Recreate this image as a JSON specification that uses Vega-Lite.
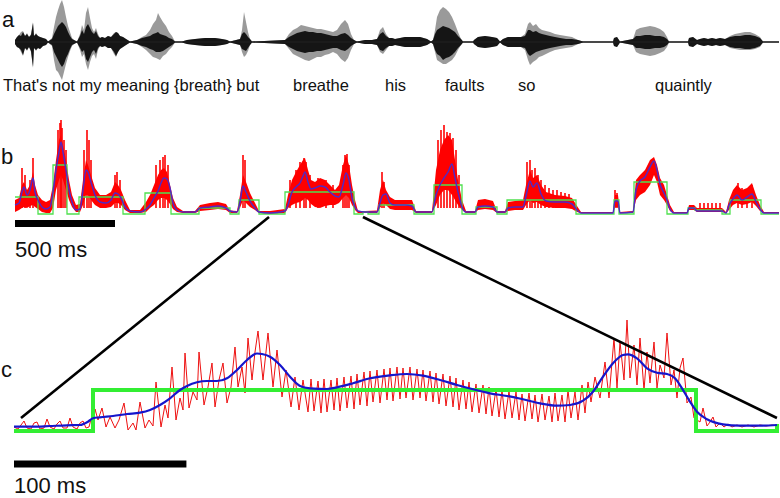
{
"$schema": "https://vega.github.io/schema/vega-lite/v6.json",
"padding": 0,
"spacing": 0,
"bounds": "flush",
"config": {"view": {"stroke": null}, "text": {"font": "Liberation Sans"}},
"resolve": {"scale": {"x": "independent", "y": "independent"}},
"datasets": {
"wave": [
{"t":0,"gu":2,"gd":-2,"ku":2,"kd":-2},{"t":10,"gu":5,"gd":-5,"ku":5,"kd":-5},{"t":20,"gu":7,"gd":-6,"ku":7,"kd":-6},{"t":30,"gu":10,"gd":-10,"ku":6,"kd":-8},{"t":40,"gu":11,"gd":-14,"ku":10,"kd":-13},{"t":50,"gu":6,"gd":-6,"ku":6,"kd":-6},{"t":60,"gu":9,"gd":-9,"ku":8,"kd":-8},{"t":70,"gu":5,"gd":-5,"ku":5,"kd":-5},{"t":80,"gu":8,"gd":-10,"ku":7,"kd":-9},{"t":90,"gu":20,"gd":-26,"ku":19,"kd":-25},{"t":95,"gu":6,"gd":-6,"ku":6,"kd":-6},{"t":105,"gu":9,"gd":-9,"ku":8,"kd":-8},{"t":115,"gu":6,"gd":-6,"ku":6,"kd":-6},{"t":125,"gu":5,"gd":-7,"ku":5,"kd":-7},{"t":140,"gu":4,"gd":-4,"ku":4,"kd":-4},{"t":155,"gu":3,"gd":-3,"ku":3,"kd":-3},{"t":165,"gu":0.5,"gd":-0.5,"ku":0.5,"kd":-0.5},
{"t":185,"gu":4,"gd":-4,"ku":3,"kd":-3},{"t":195,"gu":15,"gd":-18,"ku":8,"kd":-10},{"t":205,"gu":25,"gd":-28,"ku":12,"kd":-14},{"t":215,"gu":32,"gd":-30,"ku":16,"kd":-18},{"t":225,"gu":38,"gd":-34,"ku":18,"kd":-22},{"t":235,"gu":42,"gd":-38,"ku":20,"kd":-25},{"t":245,"gu":35,"gd":-30,"ku":18,"kd":-22},{"t":255,"gu":25,"gd":-22,"ku":15,"kd":-16},{"t":265,"gu":16,"gd":-15,"ku":10,"kd":-12},{"t":275,"gu":10,"gd":-9,"ku":6,"kd":-7},{"t":285,"gu":4,"gd":-4,"ku":3,"kd":-3},{"t":295,"gu":2,"gd":-2,"ku":2,"kd":-2},{"t":310,"gu":0.5,"gd":-0.5,"ku":0.5,"kd":-0.5},
{"t":325,"gu":8,"gd":-8,"ku":6,"kd":-6},{"t":335,"gu":17,"gd":-15,"ku":12,"kd":-10},{"t":345,"gu":12,"gd":-12,"ku":8,"kd":-8},{"t":355,"gu":29,"gd":-22,"ku":15,"kd":-17},{"t":365,"gu":35,"gd":-28,"ku":18,"kd":-20},{"t":375,"gu":24,"gd":-20,"ku":14,"kd":-15},{"t":385,"gu":14,"gd":-14,"ku":10,"kd":-10},{"t":395,"gu":10,"gd":-12,"ku":8,"kd":-8},{"t":405,"gu":14,"gd":-17,"ku":11,"kd":-12},{"t":415,"gu":8,"gd":-8,"ku":6,"kd":-6},{"t":425,"gu":4,"gd":-4,"ku":4,"kd":-4},
{"t":435,"gu":5,"gd":-5,"ku":5,"kd":-5},{"t":450,"gu":4,"gd":-4,"ku":4,"kd":-4},{"t":465,"gu":6,"gd":-6,"ku":6,"kd":-6},{"t":480,"gu":5,"gd":-6,"ku":5,"kd":-6},{"t":495,"gu":9,"gd":-12,"ku":8,"kd":-10},{"t":505,"gu":10,"gd":-15,"ku":10,"kd":-14},{"t":515,"gu":9,"gd":-10,"ku":9,"kd":-10},{"t":525,"gu":6,"gd":-7,"ku":6,"kd":-7},{"t":540,"gu":5,"gd":-5,"ku":5,"kd":-5},{"t":555,"gu":3,"gd":-3,"ku":3,"kd":-3},{"t":575,"gu":0.5,"gd":-0.5,"ku":0.5,"kd":-0.5},
{"t":610,"gu":2,"gd":-2,"ku":2,"kd":-2},{"t":635,"gu":5,"gd":-5,"ku":4,"kd":-4},{"t":655,"gu":7,"gd":-8,"ku":5,"kd":-5},{"t":675,"gu":12,"gd":-12,"ku":6,"kd":-7},{"t":690,"gu":18,"gd":-15,"ku":8,"kd":-8},{"t":705,"gu":22,"gd":-16,"ku":9,"kd":-10},{"t":715,"gu":29,"gd":-17,"ku":10,"kd":-10},{"t":725,"gu":25,"gd":-18,"ku":8,"kd":-10},{"t":740,"gu":20,"gd":-14,"ku":7,"kd":-9},{"t":755,"gu":16,"gd":-12,"ku":6,"kd":-7},{"t":770,"gu":10,"gd":-8,"ku":4,"kd":-5},{"t":785,"gu":6,"gd":-5,"ku":3,"kd":-3},{"t":800,"gu":0.5,"gd":-0.5,"ku":0.5,"kd":-0.5},
{"t":835,"gu":0.5,"gd":-0.5,"ku":0.5,"kd":-0.5},{"t":860,"gu":2,"gd":-2,"ku":2,"kd":-2},{"t":900,"gu":3,"gd":-3,"ku":3,"kd":-3},{"t":950,"gu":4,"gd":-4,"ku":4,"kd":-4},{"t":1000,"gu":4,"gd":-4,"ku":4,"kd":-4},{"t":1035,"gu":3,"gd":-3,"ku":3,"kd":-3},{"t":1060,"gu":2,"gd":-2,"ku":2,"kd":-2},{"t":1075,"gu":0.5,"gd":-0.5,"ku":0.5,"kd":-0.5},
{"t":1125,"gu":3,"gd":-3,"ku":3,"kd":-3},{"t":1135,"gu":12,"gd":-10,"ku":8,"kd":-7},{"t":1145,"gu":30,"gd":-15,"ku":10,"kd":-8},{"t":1155,"gu":20,"gd":-13,"ku":8,"kd":-9},{"t":1165,"gu":10,"gd":-9,"ku":5,"kd":-6},{"t":1175,"gu":3,"gd":-3,"ku":3,"kd":-3},{"t":1185,"gu":0.5,"gd":-0.5,"ku":0.5,"kd":-0.5},
{"t":1350,"gu":2,"gd":-2,"ku":2,"kd":-2},{"t":1370,"gu":8,"gd":-7,"ku":5,"kd":-5},{"t":1390,"gu":12,"gd":-12,"ku":7,"kd":-7},{"t":1410,"gu":14,"gd":-14,"ku":9,"kd":-9},{"t":1430,"gu":17,"gd":-16,"ku":10,"kd":-10},{"t":1450,"gu":16,"gd":-18,"ku":11,"kd":-11},{"t":1470,"gu":15,"gd":-19,"ku":10,"kd":-10},{"t":1490,"gu":14,"gd":-17,"ku":10,"kd":-10},{"t":1510,"gu":13,"gd":-15,"ku":9,"kd":-9},{"t":1530,"gu":13,"gd":-15,"ku":9,"kd":-9},{"t":1550,"gu":12,"gd":-13,"ku":8,"kd":-8},{"t":1570,"gu":11,"gd":-12,"ku":7,"kd":-7},{"t":1590,"gu":10,"gd":-10,"ku":6,"kd":-6},{"t":1610,"gu":12,"gd":-12,"ku":6,"kd":-6},{"t":1630,"gu":18,"gd":-17,"ku":8,"kd":-8},{"t":1650,"gu":22,"gd":-20,"ku":9,"kd":-9},{"t":1665,"gu":18,"gd":-16,"ku":7,"kd":-7},{"t":1680,"gu":8,"gd":-8,"ku":4,"kd":-4},{"t":1695,"gu":2,"gd":-2,"ku":2,"kd":-2},{"t":1710,"gu":0.5,"gd":-0.5,"ku":0.5,"kd":-0.5},
{"t":1750,"gu":2,"gd":-2,"ku":2,"kd":-2},{"t":1785,"gu":2,"gd":-2,"ku":2,"kd":-2},{"t":1810,"gu":3,"gd":-3,"ku":3,"kd":-3},{"t":1825,"gu":12,"gd":-10,"ku":8,"kd":-8},{"t":1840,"gu":15,"gd":-12,"ku":10,"kd":-9},{"t":1855,"gu":8,"gd":-8,"ku":6,"kd":-6},{"t":1870,"gu":4,"gd":-4,"ku":4,"kd":-4},{"t":1885,"gu":4,"gd":-4,"ku":4,"kd":-4},{"t":1900,"gu":3,"gd":-3,"ku":3,"kd":-3},{"t":1925,"gu":4,"gd":-4,"ku":4,"kd":-4},{"t":1950,"gu":5,"gd":-5,"ku":5,"kd":-5},{"t":1985,"gu":5,"gd":-5,"ku":5,"kd":-5},{"t":2025,"gu":5,"gd":-5,"ku":5,"kd":-5},{"t":2060,"gu":3,"gd":-3,"ku":3,"kd":-3},{"t":2080,"gu":0.5,"gd":-0.5,"ku":0.5,"kd":-0.5},
{"t":2090,"gu":2,"gd":-2,"ku":2,"kd":-2},{"t":2100,"gu":12,"gd":-10,"ku":8,"kd":-8},{"t":2110,"gu":25,"gd":-18,"ku":12,"kd":-12},{"t":2125,"gu":32,"gd":-20,"ku":14,"kd":-14},{"t":2140,"gu":35,"gd":-22,"ku":16,"kd":-18},{"t":2155,"gu":33,"gd":-22,"ku":15,"kd":-16},{"t":2170,"gu":30,"gd":-20,"ku":14,"kd":-15},{"t":2185,"gu":25,"gd":-18,"ku":12,"kd":-13},{"t":2200,"gu":18,"gd":-14,"ku":10,"kd":-10},{"t":2215,"gu":10,"gd":-8,"ku":6,"kd":-6},{"t":2230,"gu":3,"gd":-3,"ku":3,"kd":-3},{"t":2240,"gu":0.5,"gd":-0.5,"ku":0.5,"kd":-0.5},
{"t":2290,"gu":0.5,"gd":-0.5,"ku":0.5,"kd":-0.5},{"t":2295,"gu":2,"gd":-2,"ku":2,"kd":-2},{"t":2315,"gu":5,"gd":-5,"ku":5,"kd":-5},{"t":2350,"gu":6,"gd":-6,"ku":6,"kd":-6},{"t":2385,"gu":5,"gd":-5,"ku":5,"kd":-5},{"t":2410,"gu":4,"gd":-4,"ku":4,"kd":-4},{"t":2425,"gu":0.5,"gd":-0.5,"ku":0.5,"kd":-0.5},{"t":2440,"gu":3,"gd":-3,"ku":3,"kd":-3},{"t":2465,"gu":5,"gd":-5,"ku":5,"kd":-5},{"t":2500,"gu":5,"gd":-5,"ku":5,"kd":-5},{"t":2530,"gu":5,"gd":-5,"ku":5,"kd":-5},
{"t":2550,"gu":8,"gd":-8,"ku":6,"kd":-6},{"t":2565,"gu":18,"gd":-18,"ku":12,"kd":-12},{"t":2575,"gu":20,"gd":-23,"ku":12,"kd":-14},{"t":2590,"gu":16,"gd":-20,"ku":10,"kd":-12},{"t":2605,"gu":18,"gd":-18,"ku":11,"kd":-10},{"t":2620,"gu":14,"gd":-15,"ku":9,"kd":-9},{"t":2635,"gu":12,"gd":-14,"ku":8,"kd":-8},{"t":2655,"gu":11,"gd":-12,"ku":7,"kd":-7},{"t":2675,"gu":10,"gd":-10,"ku":6,"kd":-6},{"t":2700,"gu":8,"gd":-8,"ku":5,"kd":-5},{"t":2725,"gu":7,"gd":-7,"ku":4,"kd":-4},{"t":2755,"gu":6,"gd":-6,"ku":3,"kd":-3},{"t":2785,"gu":5,"gd":-5,"ku":3,"kd":-3},{"t":2815,"gu":2,"gd":-2,"ku":2,"kd":-2},{"t":2840,"gu":0.5,"gd":-0.5,"ku":0.5,"kd":-0.5},
{"t":2990,"gu":0.5,"gd":-0.5,"ku":0.5,"kd":-0.5},{"t":2995,"gu":4,"gd":-4,"ku":4,"kd":-4},{"t":3010,"gu":5,"gd":-5,"ku":5,"kd":-5},{"t":3025,"gu":0.5,"gd":-0.5,"ku":0.5,"kd":-0.5},
{"t":3090,"gu":3,"gd":-3,"ku":3,"kd":-3},{"t":3105,"gu":12,"gd":-10,"ku":6,"kd":-6},{"t":3125,"gu":14,"gd":-12,"ku":6,"kd":-6},{"t":3150,"gu":15,"gd":-13,"ku":7,"kd":-7},{"t":3175,"gu":16,"gd":-14,"ku":7,"kd":-7},{"t":3200,"gu":15,"gd":-13,"ku":6,"kd":-6},{"t":3225,"gu":13,"gd":-11,"ku":6,"kd":-6},{"t":3245,"gu":10,"gd":-9,"ku":5,"kd":-5},{"t":3260,"gu":5,"gd":-5,"ku":3,"kd":-3},{"t":3270,"gu":0.5,"gd":-0.5,"ku":0.5,"kd":-0.5},
{"t":3365,"gu":0.5,"gd":-0.5,"ku":0.5,"kd":-0.5},{"t":3370,"gu":4,"gd":-4,"ku":4,"kd":-4},{"t":3390,"gu":5,"gd":-5,"ku":5,"kd":-5},{"t":3410,"gu":2,"gd":-2,"ku":2,"kd":-2},{"t":3425,"gu":3,"gd":-3,"ku":3,"kd":-3},{"t":3445,"gu":4,"gd":-4,"ku":4,"kd":-4},{"t":3465,"gu":3,"gd":-3,"ku":3,"kd":-3},{"t":3485,"gu":4,"gd":-4,"ku":4,"kd":-4},{"t":3505,"gu":3,"gd":-3,"ku":3,"kd":-3},{"t":3525,"gu":4,"gd":-4,"ku":4,"kd":-4},{"t":3550,"gu":3,"gd":-3,"ku":3,"kd":-3},
{"t":3575,"gu":6,"gd":-6,"ku":5,"kd":-5},{"t":3600,"gu":8,"gd":-7,"ku":6,"kd":-6},{"t":3625,"gu":9,"gd":-8,"ku":6,"kd":-6},{"t":3650,"gu":10,"gd":-8,"ku":7,"kd":-7},{"t":3675,"gu":10,"gd":-8,"ku":7,"kd":-7},{"t":3700,"gu":8,"gd":-7,"ku":6,"kd":-6},{"t":3725,"gu":5,"gd":-5,"ku":4,"kd":-4},{"t":3740,"gu":0.5,"gd":-0.5,"ku":0.5,"kd":-0.5},{"t":3820,"gu":0.5,"gd":-0.5,"ku":0.5,"kd":-0.5}
],
"words": [
{"t":-60,"v":-49,"w":"That's not my meaning {breath} but"},{"t":1390,"v":-49,"w":"breathe"},{"t":1850,"v":-49,"w":"his"},{"t":2150,"v":-49,"w":"faults"},{"t":2515,"v":-49,"w":"so"},{"t":3200,"v":-49,"w":"quaintly"}
],
"env": [
{"t":0,"lo":0,"hi":12,"b":7},{"t":20,"lo":2,"hi":14,"b":9},{"t":35,"lo":4,"hi":27,"b":20},{"t":45,"lo":5,"hi":30,"b":25},{"t":60,"lo":4,"hi":22,"b":17},{"t":75,"lo":6,"hi":27,"b":22},{"t":90,"lo":7,"hi":40,"b":34},{"t":100,"lo":5,"hi":27,"b":20},{"t":115,"lo":3,"hi":17,"b":12},{"t":135,"lo":0,"hi":12,"b":5},{"t":155,"lo":-1,"hi":10,"b":3},{"t":175,"lo":-1,"hi":12,"b":5},{"t":190,"lo":4,"hi":27,"b":20},{"t":205,"lo":22,"hi":52,"b":42},{"t":220,"lo":32,"hi":72,"b":60},{"t":230,"lo":37,"hi":77,"b":70},{"t":240,"lo":32,"hi":67,"b":60},{"t":255,"lo":22,"hi":52,"b":42},{"t":270,"lo":12,"hi":32,"b":22},{"t":285,"lo":5,"hi":17,"b":10},{"t":305,"lo":0,"hi":7,"b":2},{"t":325,"lo":0,"hi":8,"b":3},{"t":340,"lo":7,"hi":32,"b":22},{"t":355,"lo":17,"hi":52,"b":42},{"t":365,"lo":17,"hi":47,"b":40},{"t":380,"lo":12,"hi":37,"b":30},{"t":400,"lo":7,"hi":24,"b":17},{"t":425,"lo":4,"hi":17,"b":10},{"t":455,"lo":4,"hi":17,"b":9},{"t":480,"lo":5,"hi":20,"b":12},{"t":500,"lo":9,"hi":30,"b":19},{"t":515,"lo":9,"hi":27,"b":18},{"t":530,"lo":7,"hi":22,"b":14},{"t":550,"lo":2,"hi":12,"b":5},{"t":575,"lo":-1,"hi":2,"b":1},{"t":625,"lo":-1,"hi":2,"b":0},{"t":655,"lo":0,"hi":10,"b":3},{"t":675,"lo":4,"hi":17,"b":7},{"t":695,"lo":7,"hi":27,"b":14},{"t":715,"lo":12,"hi":37,"b":21},{"t":730,"lo":14,"hi":42,"b":29},{"t":745,"lo":14,"hi":44,"b":34},{"t":760,"lo":12,"hi":40,"b":33},{"t":775,"lo":8,"hi":27,"b":24},{"t":790,"lo":3,"hi":14,"b":9},{"t":810,"lo":0,"hi":5,"b":2},{"t":840,"lo":-1,"hi":1,"b":0},{"t":900,"lo":-1,"hi":1,"b":0},{"t":925,"lo":1,"hi":7,"b":4},{"t":975,"lo":2,"hi":9,"b":5},{"t":1015,"lo":3,"hi":10,"b":6},{"t":1055,"lo":2,"hi":8,"b":4},{"t":1075,"lo":-1,"hi":1.5,"b":1},{"t":1110,"lo":-1,"hi":1,"b":0},{"t":1125,"lo":4,"hi":17,"b":10},{"t":1140,"lo":12,"hi":37,"b":26},{"t":1155,"lo":9,"hi":30,"b":20},{"t":1175,"lo":5,"hi":19,"b":11},{"t":1200,"lo":2,"hi":9,"b":4},{"t":1220,"lo":-1,"hi":1,"b":0},{"t":1275,"lo":-2,"hi":1,"b":-1},{"t":1350,"lo":-1,"hi":3,"b":1},{"t":1365,"lo":4,"hi":17,"b":7},{"t":1385,"lo":7,"hi":32,"b":20},{"t":1405,"lo":9,"hi":40,"b":25},{"t":1425,"lo":10,"hi":47,"b":29},{"t":1440,"lo":12,"hi":52,"b":36},{"t":1450,"lo":14,"hi":54,"b":40},{"t":1465,"lo":12,"hi":42,"b":30},{"t":1480,"lo":8,"hi":32,"b":23},{"t":1500,"lo":5,"hi":30,"b":24},{"t":1525,"lo":4,"hi":34,"b":26},{"t":1550,"lo":6,"hi":32,"b":25},{"t":1575,"lo":7,"hi":27,"b":20},{"t":1600,"lo":7,"hi":22,"b":16},{"t":1620,"lo":9,"hi":27,"b":15},{"t":1640,"lo":14,"hi":47,"b":27},{"t":1655,"lo":17,"hi":57,"b":39},{"t":1670,"lo":14,"hi":47,"b":32},{"t":1685,"lo":7,"hi":27,"b":14},{"t":1700,"lo":2,"hi":12,"b":5},{"t":1715,"lo":-1,"hi":1,"b":1},{"t":1750,"lo":-1,"hi":1,"b":0},{"t":1810,"lo":-1,"hi":1.5,"b":0},{"t":1825,"lo":4,"hi":22,"b":9},{"t":1840,"lo":9,"hi":32,"b":17},{"t":1855,"lo":7,"hi":22,"b":18},{"t":1875,"lo":3,"hi":15,"b":9},{"t":1900,"lo":2,"hi":12,"b":7},{"t":1950,"lo":2,"hi":12,"b":7},{"t":1985,"lo":2,"hi":12,"b":6},{"t":2005,"lo":-1,"hi":1,"b":0},{"t":2085,"lo":-1,"hi":1,"b":0},{"t":2105,"lo":7,"hi":42,"b":17},{"t":2125,"lo":17,"hi":62,"b":27},{"t":2145,"lo":22,"hi":72,"b":34},{"t":2165,"lo":22,"hi":77,"b":40},{"t":2185,"lo":17,"hi":72,"b":48},{"t":2200,"lo":12,"hi":52,"b":34},{"t":2215,"lo":7,"hi":32,"b":20},{"t":2235,"lo":2,"hi":12,"b":5},{"t":2255,"lo":-1,"hi":1,"b":0},{"t":2300,"lo":-1,"hi":1,"b":0},{"t":2315,"lo":2,"hi":12,"b":5},{"t":2350,"lo":3,"hi":13,"b":6},{"t":2390,"lo":2,"hi":11,"b":5},{"t":2410,"lo":-1,"hi":1,"b":0},{"t":2450,"lo":-1,"hi":1,"b":0},{"t":2465,"lo":1,"hi":10,"b":4},{"t":2500,"lo":2,"hi":11,"b":5},{"t":2540,"lo":2,"hi":12,"b":5},{"t":2555,"lo":7,"hi":27,"b":16},{"t":2575,"lo":12,"hi":42,"b":31},{"t":2590,"lo":9,"hi":34,"b":25},{"t":2610,"lo":10,"hi":37,"b":29},{"t":2630,"lo":7,"hi":27,"b":18},{"t":2655,"lo":5,"hi":20,"b":11},{"t":2700,"lo":4,"hi":17,"b":10},{"t":2750,"lo":4,"hi":16,"b":10},{"t":2785,"lo":3,"hi":14,"b":8},{"t":2810,"lo":0,"hi":6,"b":2},{"t":2830,"lo":-1,"hi":0,"b":-1},{"t":2990,"lo":-1,"hi":0,"b":-1},{"t":3000,"lo":5,"hi":17,"b":11},{"t":3015,"lo":5,"hi":17,"b":11},{"t":3025,"lo":-1,"hi":0,"b":-1},{"t":3090,"lo":-1,"hi":1,"b":0},{"t":3105,"lo":12,"hi":32,"b":22},{"t":3125,"lo":17,"hi":37,"b":31},{"t":3150,"lo":20,"hi":42,"b":35},{"t":3175,"lo":27,"hi":52,"b":45},{"t":3195,"lo":37,"hi":55,"b":51},{"t":3210,"lo":30,"hi":47,"b":42},{"t":3225,"lo":17,"hi":34,"b":28},{"t":3245,"lo":12,"hi":27,"b":19},{"t":3260,"lo":7,"hi":17,"b":12},{"t":3275,"lo":1,"hi":7,"b":3},{"t":3295,"lo":-1,"hi":0,"b":-1},{"t":3360,"lo":-1,"hi":0,"b":-1},{"t":3370,"lo":2,"hi":7,"b":4},{"t":3395,"lo":2,"hi":7,"b":4},{"t":3410,"lo":0,"hi":4,"b":1},{"t":3535,"lo":0,"hi":4,"b":1},{"t":3555,"lo":-1,"hi":0,"b":-1},{"t":3570,"lo":2,"hi":12,"b":7},{"t":3590,"lo":7,"hi":22,"b":13},{"t":3610,"lo":9,"hi":27,"b":17},{"t":3635,"lo":7,"hi":22,"b":12},{"t":3660,"lo":8,"hi":24,"b":15},{"t":3685,"lo":10,"hi":29,"b":18},{"t":3705,"lo":6,"hi":17,"b":10},{"t":3725,"lo":1,"hi":7,"b":3},{"t":3745,"lo":-1,"hi":0,"b":-1},{"t":3820,"lo":-1,"hi":0,"b":-1}
],
"spk": [
{"t":35,"top":44},{"t":50,"top":37},{"t":75,"top":32},{"t":90,"top":54},{"t":215,"top":82},{"t":225,"top":89},{"t":230,"top":92},{"t":235,"top":84},{"t":245,"top":72},{"t":255,"top":62},{"t":345,"top":62},{"t":360,"top":82},{"t":370,"top":72},{"t":380,"top":52},{"t":500,"top":37},{"t":510,"top":40},{"t":525,"top":32},{"t":705,"top":47},{"t":725,"top":52},{"t":740,"top":55},{"t":750,"top":57},{"t":765,"top":47},{"t":1140,"top":57},{"t":1150,"top":52},{"t":1375,"top":32},{"t":1405,"top":42},{"t":1425,"top":50},{"t":1445,"top":54},{"t":1455,"top":50},{"t":1475,"top":37},{"t":1515,"top":34},{"t":1555,"top":32},{"t":1590,"top":27},{"t":1640,"top":47},{"t":1650,"top":57},{"t":1660,"top":58},{"t":1670,"top":47},{"t":1835,"top":40},{"t":1845,"top":30},{"t":2115,"top":72},{"t":2130,"top":82},{"t":2145,"top":87},{"t":2160,"top":80},{"t":2175,"top":79},{"t":2190,"top":74},{"t":2205,"top":62},{"t":2220,"top":37},{"t":2345,"top":9},{"t":2365,"top":9},{"t":2560,"top":50},{"t":2575,"top":52},{"t":2585,"top":42},{"t":2600,"top":44},{"t":2615,"top":37},{"t":2630,"top":32},{"t":2650,"top":27},{"t":2670,"top":24},{"t":2690,"top":22},{"t":2710,"top":22},{"t":2730,"top":20},{"t":2750,"top":19},{"t":2770,"top":18},{"t":3000,"top":22},{"t":3010,"top":19},{"t":3425,"top":9},{"t":3445,"top":9},{"t":3465,"top":9},{"t":3485,"top":9},{"t":3505,"top":9},{"t":3525,"top":9},{"t":3615,"top":29},{"t":3635,"top":24},{"t":3660,"top":22},{"t":3685,"top":27}
],
"gb": [
{"t":0,"v":15},{"t":115,"v":-2},{"t":190,"v":47},{"t":260,"v":-2},{"t":320,"v":15},{"t":540,"v":-2},{"t":650,"v":19},{"t":780,"v":-2},{"t":920,"v":4},{"t":1075,"v":-2},{"t":1120,"v":12},{"t":1220,"v":-2},{"t":1350,"v":20},{"t":1695,"v":-2},{"t":1740,"v":0},{"t":1765,"v":-2},{"t":1820,"v":7},{"t":1995,"v":-2},{"t":2095,"v":27},{"t":2235,"v":-2},{"t":2305,"v":5},{"t":2410,"v":-2},{"t":2460,"v":12},{"t":2805,"v":-2},{"t":2995,"v":12},{"t":3020,"v":-2},{"t":3095,"v":30},{"t":3260,"v":-2},{"t":3365,"v":4},{"t":3400,"v":2},{"t":3535,"v":-2},{"t":3575,"v":12},{"t":3730,"v":-2},{"t":3820,"v":-2}
],
"rc": [
{"t":0,"v":1},{"t":2.32,"v":-1},{"t":4.06,"v":3},{"t":5.8,"v":7},{"t":7.54,"v":0},{"t":9.86,"v":-1},{"t":11.6,"v":5},{"t":13.34,"v":6},{"t":15.08,"v":-1},{"t":17.4,"v":0},{"t":19.14,"v":9},{"t":20.88,"v":1},{"t":23.2,"v":-1},{"t":24.94,"v":4},{"t":26.68,"v":7},{"t":28.42,"v":0},{"t":30.74,"v":0},{"t":32.48,"v":10},{"t":34.22,"v":1},{"t":36.54,"v":-1},{"t":38.28,"v":5},{"t":40.02,"v":7},{"t":41.76,"v":0},{"t":43.5,"v":1},{"t":44.66,"v":9},{"t":45.82,"v":0},
{"t":46.98,"v":19},{"t":48.72,"v":8},{"t":51.04,"v":20},{"t":53.36,"v":1},{"t":55.68,"v":11},{"t":58.58,"v":0},{"t":60.9,"v":8},{"t":63.8,"v":25},{"t":66.12,"v":-2},{"t":69.02,"v":5},{"t":70.76,"v":-2},{"t":73.08,"v":26},{"t":75.98,"v":0},{"t":78.3,"v":8},{"t":80.62,"v":2},{"t":82.36,"v":46},{"t":85.26,"v":1},{"t":87.58,"v":23},{"t":89.32,"v":10},{"t":91.64,"v":61},{"t":93.96,"v":8},{"t":96.28,"v":30},{"t":98.02,"v":18},{"t":99.18,"v":75},{"t":101.5,"v":20},{"t":103.82,"v":36},{"t":106.14,"v":28},{"t":107.3,"v":76},{"t":110.2,"v":23},{"t":112.52,"v":41},{"t":114.84,"v":65},{"t":116.58,"v":21},{"t":118.9,"v":48},{"t":121.22,"v":65},{"t":123.54,"v":25},{"t":125.86,"v":41},{"t":128.18,"v":81},{"t":129.92,"v":41},{"t":132.24,"v":61},{"t":133.98,"v":35},{"t":135.72,"v":90},{"t":138.04,"v":48},{"t":139.78,"v":76},{"t":141.52,"v":97},{"t":144.42,"v":48},{"t":147.32,"v":95},{"t":150.22,"v":41},{"t":152.54,"v":78},{"t":155.44,"v":31},{"t":157.76,"v":58},{"t":160.66,"v":21},{"t":162.98,"v":51},{"t":165.3,"v":18},{"t":167.62,"v":48},{"t":170.52,"v":16},
{"t":172.26,"v":49},{"t":174,"v":17},{"t":176.32,"v":47},{"t":178.06,"v":15},{"t":179.8,"v":49},{"t":181.54,"v":16},{"t":183.86,"v":48},{"t":185.6,"v":18},{"t":187.34,"v":50},{"t":189.08,"v":17},{"t":191.4,"v":51},{"t":193.14,"v":20},{"t":195.46,"v":52},{"t":197.2,"v":19},{"t":198.94,"v":54},{"t":200.68,"v":23},{"t":203,"v":56},{"t":204.74,"v":22},{"t":206.48,"v":57},{"t":208.22,"v":26},{"t":210.54,"v":58},{"t":212.28,"v":25},{"t":214.6,"v":59},{"t":216.34,"v":28},{"t":218.08,"v":60},{"t":219.82,"v":27},{"t":222.14,"v":61},{"t":223.88,"v":29},{"t":225.62,"v":60},{"t":227.36,"v":30},{"t":229.68,"v":61},{"t":231.42,"v":28},{"t":233.74,"v":59},{"t":235.48,"v":30},{"t":237.22,"v":58},{"t":238.96,"v":27},{"t":241.28,"v":57},{"t":243.02,"v":26},{"t":244.76,"v":55},{"t":246.5,"v":24},{"t":248.82,"v":54},{"t":250.56,"v":22},{"t":252.88,"v":52},{"t":254.62,"v":21},{"t":256.36,"v":50},{"t":258.1,"v":18},{"t":260.42,"v":48},{"t":262.16,"v":19},{"t":263.9,"v":46},{"t":265.64,"v":16},{"t":267.96,"v":44},{"t":269.7,"v":15},{"t":272.02,"v":43},{"t":273.76,"v":14},{"t":275.5,"v":41},{"t":277.24,"v":12},{"t":279.56,"v":39},{"t":281.3,"v":11},{"t":283.04,"v":38},{"t":284.78,"v":9},{"t":287.1,"v":37},{"t":288.84,"v":10},{"t":291.16,"v":36},{"t":292.9,"v":8},{"t":294.64,"v":34},{"t":296.38,"v":7},{"t":298.7,"v":35},{"t":300.44,"v":9},{"t":302.18,"v":33},{"t":303.92,"v":6},{"t":306.24,"v":34},{"t":307.98,"v":8},{"t":310.3,"v":32},{"t":312.04,"v":6},{"t":313.78,"v":35},{"t":315.52,"v":7},{"t":317.84,"v":33},{"t":319.58,"v":6},{"t":321.32,"v":38},{"t":323.06,"v":10},{"t":325.38,"v":36},{"t":327.12,"v":8},{"t":329.44,"v":43},{"t":331.18,"v":15},
{"t":332.92,"v":46},{"t":334.66,"v":26},{"t":336.98,"v":51},{"t":339.88,"v":30},{"t":342.78,"v":66},{"t":345.1,"v":30},{"t":348,"v":90},{"t":349.74,"v":40},{"t":351.48,"v":86},{"t":353.8,"v":48},{"t":355.54,"v":108},{"t":357.28,"v":50},{"t":359.6,"v":83},{"t":361.34,"v":43},{"t":363.08,"v":90},{"t":365.4,"v":38},{"t":367.14,"v":76},{"t":368.88,"v":45},{"t":371.2,"v":86},{"t":372.94,"v":40},{"t":374.68,"v":63},{"t":377,"v":50},{"t":378.74,"v":95},{"t":381.06,"v":43},{"t":382.8,"v":58},{"t":384.54,"v":30},{"t":386.28,"v":60},{"t":388.02,"v":70},{"t":390.34,"v":25},{"t":392.66,"v":31},{"t":394.4,"v":10},{"t":396.14,"v":8},
{"t":397.88,"v":6},{"t":399.62,"v":20},{"t":401.94,"v":2},{"t":403.68,"v":6},{"t":405.42,"v":11},{"t":407.16,"v":1},{"t":409.48,"v":5},{"t":411.8,"v":1},{"t":414.12,"v":4},{"t":416.44,"v":1},{"t":419.34,"v":3},{"t":422.24,"v":1},{"t":425.72,"v":3},{"t":429.2,"v":1},{"t":432.68,"v":3},{"t":436.16,"v":2},{"t":439.64,"v":3},{"t":442.54,"v":2}
],
"bc": [
{"t":0,"v":1.3},{"t":11.02,"v":1.3},{"t":20.88,"v":2},{"t":30.74,"v":2.7},{"t":38.28,"v":3},{"t":42.92,"v":6.3},{"t":45.82,"v":9.7},{"t":49.88,"v":10.7},{"t":57.42,"v":12},{"t":65.54,"v":14},{"t":73.08,"v":15.3},{"t":78.88,"v":18},{"t":84.68,"v":23},{"t":90.48,"v":29.7},{"t":96.28,"v":38},{"t":100.34,"v":42},{"t":106.14,"v":45.7},{"t":111.94,"v":47},{"t":117.74,"v":47},{"t":123.54,"v":49.7},{"t":129.34,"v":58},{"t":135.14,"v":68},{"t":140.94,"v":74.5},{"t":143.84,"v":74},{"t":148.48,"v":71.3},{"t":154.28,"v":63},{"t":160.08,"v":51.3},{"t":165.88,"v":42},{"t":171.68,"v":39.7},{"t":181.54,"v":39},{"t":187.34,"v":40.7},{"t":196.62,"v":44.7},{"t":206.48,"v":49.7},{"t":218.08,"v":52.7},{"t":227.94,"v":54},{"t":237.22,"v":52.3},{"t":247.08,"v":48},{"t":256.94,"v":43},{"t":266.22,"v":38.7},{"t":276.08,"v":34.7},{"t":285.94,"v":32},{"t":295.22,"v":28.7},{"t":305.08,"v":24.7},{"t":314.94,"v":22.3},{"t":322.48,"v":23},{"t":330.02,"v":27.3},{"t":335.82,"v":36.3},{"t":341.62,"v":51.3},{"t":347.42,"v":64.7},{"t":353.22,"v":73},{"t":356.12,"v":73.7},{"t":361.34,"v":69.7},{"t":367.14,"v":59.7},{"t":372.94,"v":55.3},{"t":378.74,"v":54},{"t":383.38,"v":49.7},{"t":387.44,"v":39.7},{"t":392.08,"v":26.3},{"t":396.14,"v":16.3},{"t":401.94,"v":8.7},{"t":411.22,"v":3.7},{"t":421.08,"v":2.3},{"t":430.94,"v":2.3},{"t":442.54,"v":3}
],
"gc": [
{"t":0,"v":-3,"o":1},{"t":45.82,"v":-3,"o":2},{"t":45.82,"v":38,"o":3},{"t":395.56,"v":38,"o":4},{"t":395.56,"v":-3,"o":5},{"t":442.54,"v":-3,"o":6},{"t":442.54,"v":4,"o":7}
],
"zoomlines": [
{"t":147.9,"v":211,"g":"L"},{"t":4.06,"v":10,"g":"L"},{"t":202.4,"v":211,"g":"R"},{"t":442.5,"v":10,"g":"R"}
]
},
"vconcat": [
{
"width": 780, "height": 100,
"layer": [
{"data": {"name": "wave"}, "mark": {"type": "area", "color": "#9a9a9a"},
 "encoding": {"x": {"field": "t", "type": "quantitative", "scale": {"domain": [-75, 3825], "nice": false, "zero": false}, "axis": null},
  "y": {"field": "gu", "type": "quantitative", "scale": {"domain": [-58, 42], "nice": false, "zero": false}, "axis": null}, "y2": {"field": "gd"}}},
{"data": {"name": "wave"}, "mark": {"type": "area", "color": "#151515"},
 "encoding": {"x": {"field": "t", "type": "quantitative", "scale": {"domain": [-75, 3825], "nice": false, "zero": false}, "axis": null},
  "y": {"field": "ku", "type": "quantitative", "scale": {"domain": [-58, 42], "nice": false, "zero": false}, "axis": null}, "y2": {"field": "kd"}}},
{"data": {"values": [{"t0": 0, "t1": 3820, "v": 0}]}, "mark": {"type": "rule", "color": "#222", "strokeWidth": 1},
 "encoding": {"x": {"field": "t0", "type": "quantitative", "scale": {"domain": [-75, 3825], "nice": false, "zero": false}, "axis": null}, "x2": {"field": "t1"},
  "y": {"field": "v", "type": "quantitative", "scale": {"domain": [-58, 42], "nice": false, "zero": false}, "axis": null}}},
{"data": {"name": "words"}, "mark": {"type": "text", "align": "left", "baseline": "alphabetic", "fontSize": 16.5, "color": "#111"},
 "encoding": {"x": {"field": "t", "type": "quantitative", "scale": {"domain": [-75, 3825], "nice": false, "zero": false}, "axis": null},
  "y": {"field": "v", "type": "quantitative", "scale": {"domain": [-58, 42], "nice": false, "zero": false}, "axis": null}, "text": {"field": "w"}}},
{"data": {"values": [{"t": -65, "v": 15, "w": "a"}]}, "mark": {"type": "text", "align": "left", "baseline": "alphabetic", "fontSize": 22, "color": "#111"},
 "encoding": {"x": {"field": "t", "type": "quantitative", "scale": {"domain": [-75, 3825], "nice": false, "zero": false}, "axis": null},
  "y": {"field": "v", "type": "quantitative", "scale": {"domain": [-58, 42], "nice": false, "zero": false}, "axis": null}, "text": {"field": "w"}}}
]
},
{
"width": 780, "height": 160,
"layer": [
{"data": {"name": "env"}, "mark": {"type": "area", "color": "#ff0000"},
 "encoding": {"x": {"field": "t", "type": "quantitative", "scale": {"domain": [-75, 3825], "nice": false, "zero": false}, "axis": null},
  "y": {"field": "hi", "type": "quantitative", "scale": {"domain": [-48, 112], "nice": false, "zero": false}, "axis": null}, "y2": {"field": "lo"}}},
{"data": {"name": "spk"}, "mark": {"type": "rule", "color": "#ff0000", "strokeWidth": 1.6},
 "encoding": {"x": {"field": "t", "type": "quantitative", "scale": {"domain": [-75, 3825], "nice": false, "zero": false}, "axis": null},
  "y": {"field": "top", "type": "quantitative", "scale": {"domain": [-48, 112], "nice": false, "zero": false}, "axis": null}, "y2": {"datum": 4}}},
{"data": {"name": "gb"}, "mark": {"type": "line", "color": "#4fe04f", "strokeWidth": 1.3, "interpolate": "step-after"},
 "encoding": {"x": {"field": "t", "type": "quantitative", "scale": {"domain": [-75, 3825], "nice": false, "zero": false}, "axis": null},
  "y": {"field": "v", "type": "quantitative", "scale": {"domain": [-48, 112], "nice": false, "zero": false}, "axis": null}}},
{"data": {"name": "env"}, "mark": {"type": "line", "color": "#5228c4", "strokeWidth": 1.5, "interpolate": "monotone"},
 "encoding": {"x": {"field": "t", "type": "quantitative", "scale": {"domain": [-75, 3825], "nice": false, "zero": false}, "axis": null},
  "y": {"field": "b", "type": "quantitative", "scale": {"domain": [-48, 112], "nice": false, "zero": false}, "axis": null}}},
{"data": {"values": [{"t0": 0, "t1": 500, "v": -11.5}]}, "mark": {"type": "rule", "color": "#000", "strokeWidth": 7, "strokeCap": "butt"},
 "encoding": {"x": {"field": "t0", "type": "quantitative", "scale": {"domain": [-75, 3825], "nice": false, "zero": false}, "axis": null}, "x2": {"field": "t1"},
  "y": {"field": "v", "type": "quantitative", "scale": {"domain": [-48, 112], "nice": false, "zero": false}, "axis": null}}},
{"data": {"values": [{"t": -70, "v": 48, "w": "b"}, {"t": 0, "v": -45, "w": "500 ms"}]}, "mark": {"type": "text", "align": "left", "baseline": "alphabetic", "fontSize": 22, "color": "#111"},
 "encoding": {"x": {"field": "t", "type": "quantitative", "scale": {"domain": [-75, 3825], "nice": false, "zero": false}, "axis": null},
  "y": {"field": "v", "type": "quantitative", "scale": {"domain": [-48, 112], "nice": false, "zero": false}, "axis": null}, "text": {"field": "w"}}}
]
},
{
"width": 780, "height": 238,
"layer": [
{"data": {"name": "rc"}, "mark": {"type": "line", "color": "#ee1111", "strokeWidth": 1},
 "encoding": {"x": {"field": "t", "type": "quantitative", "scale": {"domain": [-8.12, 444.28], "nice": false, "zero": false}, "axis": null},
  "y": {"field": "v", "type": "quantitative", "scale": {"domain": [-70, 168], "nice": false, "zero": false}, "axis": null}}},
{"data": {"name": "gc"}, "mark": {"type": "line", "color": "#33ee33", "strokeWidth": 4, "strokeJoin": "miter"},
 "encoding": {"x": {"field": "t", "type": "quantitative", "scale": {"domain": [-8.12, 444.28], "nice": false, "zero": false}, "axis": null},
  "y": {"field": "v", "type": "quantitative", "scale": {"domain": [-70, 168], "nice": false, "zero": false}, "axis": null}, "order": {"field": "o"}}},
{"data": {"name": "bc"}, "mark": {"type": "line", "color": "#1515cc", "strokeWidth": 2.2, "interpolate": "monotone"},
 "encoding": {"x": {"field": "t", "type": "quantitative", "scale": {"domain": [-8.12, 444.28], "nice": false, "zero": false}, "axis": null},
  "y": {"field": "v", "type": "quantitative", "scale": {"domain": [-70, 168], "nice": false, "zero": false}, "axis": null}}},
{"data": {"name": "zoomlines"}, "mark": {"type": "line", "color": "#000", "strokeWidth": 2.6},
 "encoding": {"x": {"field": "t", "type": "quantitative", "scale": {"domain": [-8.12, 444.28], "nice": false, "zero": false}, "axis": null},
  "y": {"field": "v", "type": "quantitative", "scale": {"domain": [-70, 168], "nice": false, "zero": false}, "axis": null}, "detail": {"field": "g"}}},
{"data": {"values": [{"t0": 0, "t1": 100, "v": -36}]}, "mark": {"type": "rule", "color": "#000", "strokeWidth": 7, "strokeCap": "butt"},
 "encoding": {"x": {"field": "t0", "type": "quantitative", "scale": {"domain": [-8.12, 444.28], "nice": false, "zero": false}, "axis": null}, "x2": {"field": "t1"},
  "y": {"field": "v", "type": "quantitative", "scale": {"domain": [-70, 168], "nice": false, "zero": false}, "axis": null}}},
{"data": {"values": [{"t": -7.5, "v": 51, "w": "c"}, {"t": 0, "v": -65, "w": "100 ms"}]}, "mark": {"type": "text", "align": "left", "baseline": "alphabetic", "fontSize": 22, "color": "#111"},
 "encoding": {"x": {"field": "t", "type": "quantitative", "scale": {"domain": [-8.12, 444.28], "nice": false, "zero": false}, "axis": null},
  "y": {"field": "v", "type": "quantitative", "scale": {"domain": [-70, 168], "nice": false, "zero": false}, "axis": null}, "text": {"field": "w"}}}
]
}
]
}
